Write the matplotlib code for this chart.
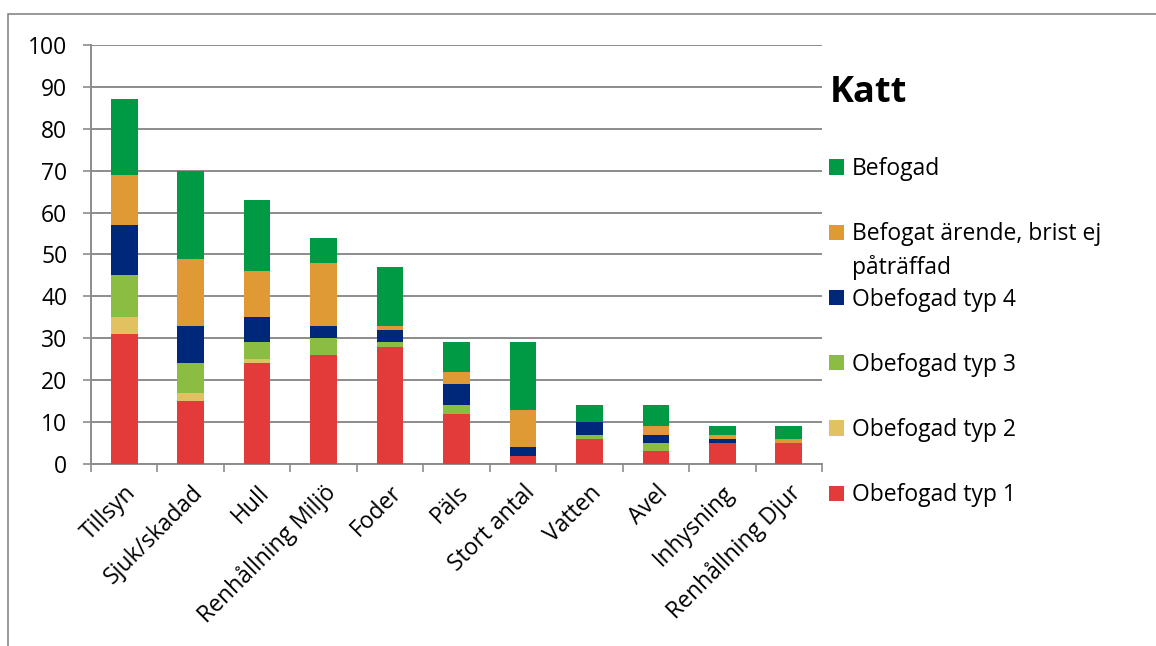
import matplotlib
matplotlib.use("Agg")
import matplotlib.pyplot as plt
from matplotlib.patches import Rectangle
import numpy as np

plt.rcParams["font.family"] = ["Open Sans", "DejaVu Sans"]

categories = [
    "Tillsyn", "Sjuk/skadad", "Hull", "Renhållning Miljö", "Foder", "Päls",
    "Stort antal", "Vatten", "Avel", "Inhysning", "Renhållning Djur",
]

# stacked from the bottom up
obefogad_1 = [31, 15, 24, 26, 28, 12, 2, 6, 3, 5, 5]
obefogad_2 = [4, 2, 1, 0, 0, 0, 0, 0, 0, 0, 0]
obefogad_3 = [10, 7, 4, 4, 1, 2, 0, 1, 2, 0, 0]
obefogad_4 = [12, 9, 6, 3, 3, 5, 2, 3, 2, 1, 0]
befogat_ej = [12, 16, 11, 15, 1, 3, 9, 0, 2, 1, 1]
befogad = [18, 21, 17, 6, 14, 7, 16, 4, 5, 2, 3]

series = [
    ("Obefogad typ 1", obefogad_1, "#E33A3A"),
    ("Obefogad typ 2", obefogad_2, "#E2C160"),
    ("Obefogad typ 3", obefogad_3, "#8CBD43"),
    ("Obefogad typ 4", obefogad_4, "#00287A"),
    ("Befogat ärende, brist ej", befogat_ej, "#E09A35"),
    ("Befogad", befogad, "#009A44"),
]

FS = 16.5
W, H = 1156, 646
fig = plt.figure(figsize=(W / 100, H / 100), dpi=100)
ax = fig.add_axes([91 / W, 1 - 464 / H, (822 - 91) / W, (464 - 45) / H])

grey = "#8C8C8C"
x = np.arange(len(categories))
bottom = np.zeros(len(categories))
handles = []
for label, vals, color in series:
    vals = np.array(vals, dtype=float)
    b = ax.bar(x, vals, width=0.4, bottom=bottom, color=color, linewidth=0,
               label=label, zorder=3)
    handles.append(b)
    bottom += vals

ax.set_xlim(-0.5, len(categories) - 0.5)
ax.set_ylim(0, 100)
ax.set_yticks(np.arange(0, 101, 10))
ax.yaxis.grid(True, color=grey, linewidth=1.4, zorder=0)
ax.tick_params(axis="y", length=6, width=1.2, color=grey, pad=11,
               labelsize=FS)

# boundary ticks between categories, labels at the centres
ax.set_xticks(np.arange(-0.5, len(categories)), minor=True)
ax.set_xticks(x)
ax.set_xticklabels(categories, rotation=45, ha="right",
                   rotation_mode="anchor", fontsize=FS)
ax.tick_params(axis="x", which="major", length=0, pad=12)
ax.tick_params(axis="x", which="minor", length=6, width=1.2, color=grey)

for side in ("top", "right"):
    ax.spines[side].set_visible(False)
for side in ("left", "bottom"):
    ax.spines[side].set_color(grey)
    ax.spines[side].set_linewidth(1.4)

fig.text(830 / W, 1 - 93 / H, "Katt", fontsize=26, fontweight="bold",
         va="center", ha="left")

leg = fig.legend(handles[::-1], [s[0] for s in series[::-1]],
                 loc="upper left", bbox_to_anchor=(829 / W, 1 - 157 / H),
                 frameon=False, fontsize=FS, handlelength=0.65,
                 handleheight=0.65, handletextpad=0.35, labelspacing=1.8,
                 borderaxespad=0, borderpad=0)

# second line of the wrapped legend label
fig.canvas.draw()
bb = leg.get_texts()[1].get_window_extent()
fig.text(bb.x0 / W, (bb.y0 - 34) / H, "påträffad", fontsize=FS,
         ha="left", va="bottom")

fig.patches.append(Rectangle((8 / W, -0.1), 1.2, 1.1 - 14 / H,
                             transform=fig.transFigure, fill=False,
                             edgecolor="#878787", linewidth=1.2))

fig.savefig("out.png", dpi=100)
